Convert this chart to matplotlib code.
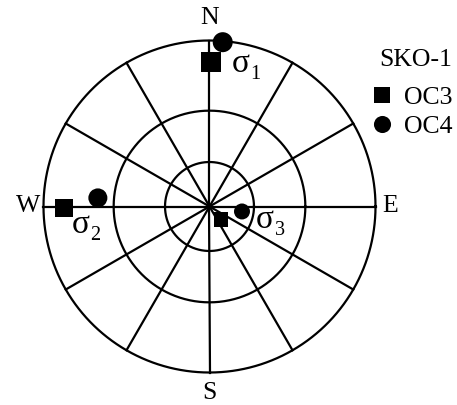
import numpy as np
import matplotlib
matplotlib.use("Agg")
import matplotlib.pyplot as plt
from matplotlib.lines import Line2D

plt.rcParams['font.family'] = ['Liberation Serif', 'DejaVu Serif']

# Principal stress axes (trend, plunge in degrees) for two sites
stress_labels = ['σ', 'σ', 'σ']
stress_index = ['1', '2', '3']
oc3_trend = [0.5, 269.5, 138.5]
oc3_plunge = [8, 7.5, 78]
oc4_trend = [4.6, 274.4, 98.7]
oc4_plunge = [0.4, 22, 67.6]

plunge_circles = [30, 60]
spoke_step = 30
directions = ['N', 'E', 'S', 'W']


def project(trend, plunge):
    """Equal-angle (Wulff) lower-hemisphere projection."""
    t = np.radians(np.asarray(trend, float))
    r = np.tan(np.radians(90 - np.asarray(plunge, float)) / 2)
    return r * np.sin(t), r * np.cos(t)


fig = plt.figure(figsize=(4.57, 4.05), dpi=100)
ax = fig.add_axes([0, 0, 1, 1])
scale = 166.0
cx, cy = 209.5, 206.5
ax.set_xlim(-cx / scale, (457 - cx) / scale)
ax.set_ylim(-(405 - cy) / scale, cy / scale)
ax.set_aspect('equal')
ax.axis('off')

lw = 1.6
th = np.linspace(0, 2 * np.pi, 721)
ax.plot(np.cos(th), np.sin(th), color='black', lw=lw)
for p in plunge_circles:
    r = np.tan(np.radians(90 - p) / 2)
    ax.plot(r * np.cos(th), r * np.sin(th), color='black', lw=lw)
for a in np.arange(0, 360, spoke_step):
    ar = np.radians(a)
    ax.plot([0, np.sin(ar)], [0, np.cos(ar)], color='black', lw=lw)

# marker sizes in points (side / diameter)
sq_pt = np.array([14.4, 13.0, 10.3])
ci_pt = np.array([14.4, 13.7, 11.5])

x3, y3 = project(oc3_trend, oc3_plunge)
x4, y4 = project(oc4_trend, oc4_plunge)
ax.scatter(x3, y3, s=sq_pt ** 2, marker='s', color='black', linewidths=0, zorder=5, clip_on=False)
ax.scatter(x4, y4, s=ci_pt ** 2, marker='o', color='black', linewidths=0, zorder=5, clip_on=False)

fs = 18.5
dir_pos = {'N': (0, 1.135), 'E': (1.087, 0), 'S': (0, -1.125), 'W': (-1.093, 0)}
for d in directions:
    ax.text(*dir_pos[d], d, ha='center', va='center', fontsize=fs)

px = 1 / scale
label_pos = [(232, 72), (72, 233), (256, 228)]
for (lx, ly), sym, idx in zip(label_pos, stress_labels, stress_index):
    xd, yd = (lx - cx) * px, (cy - ly) * px
    ax.text(xd, yd, sym, ha='left', va='baseline', fontsize=24)
    ax.text(xd + 18.5 * px, yd - 7 * px, idx, ha='left', va='baseline', fontsize=14.5)

handles = [Line2D([], [], marker='s', ls='none', color='black', ms=11.5, mew=0),
           Line2D([], [], marker='o', ls='none', color='black', ms=12.3, mew=0)]
leg = ax.legend(handles, ['OC3', 'OC4'], title='SKO-1', loc='upper right',
                bbox_to_anchor=(0.99, 0.878), frameon=False, fontsize=fs,
                title_fontsize=fs, handlelength=0.7, handletextpad=0.5,
                labelspacing=0.25, borderpad=0, borderaxespad=0, alignment='right')
leg._legend_box.sep = 0.56 * fs

fig.savefig('out.png', dpi=100)
